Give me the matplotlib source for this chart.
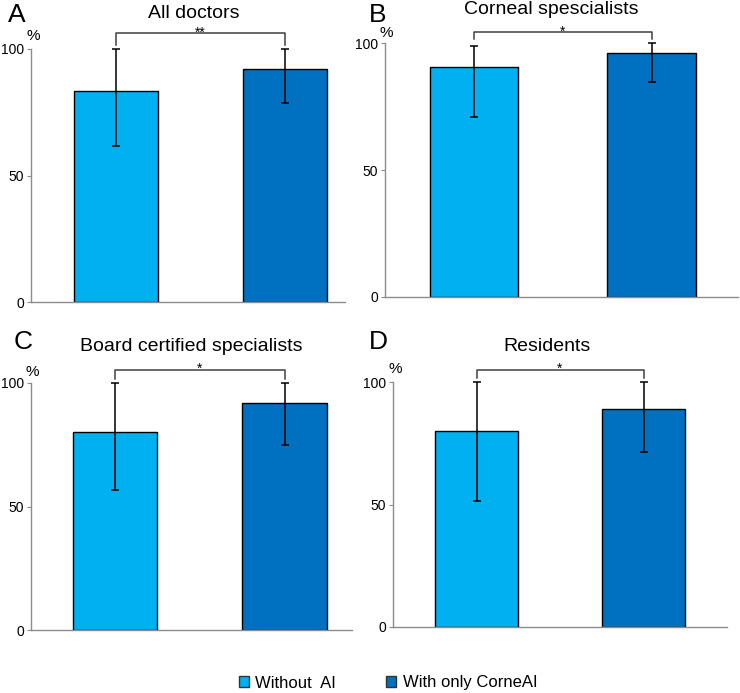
import numpy as np
import matplotlib
matplotlib.use("Agg")
import matplotlib.pyplot as plt
from matplotlib.patches import Patch

plt.rcParams["font.family"] = ["Liberation Sans", "DejaVu Sans"]

# data (percent)
panel_labels = ["A", "B", "C", "D"]
titles = ["All doctors", "Corneal spescialists", "Board certified specialists", "Residents"]
series_names = ["Without  AI", "With only CorneAI"]

without_ai = [83.4, 90.7, 80.3, 80.0]
without_lo = [61.7, 70.8, 56.5, 51.5]
without_hi = [100.0, 98.8, 100.0, 100.0]

with_ai = [92.1, 95.9, 91.9, 89.1]
with_lo = [78.7, 84.8, 74.7, 71.6]
with_hi = [100.0, 100.0, 100.0, 100.0]

stars = ["**", "*", "*", "*"]
bracket_y = [106.2, 104.2, 105.4, 105.0]

colors = ["#00B0F0", "#0070C0"]
W, H = 740, 693


def fx(px):
    return px / W


def fy(py):
    return 1 - py / H


# layout in pixels: left, right, top(100), bottom(0), xlim
layout = [
    (31, 345, 49, 302, (-0.503, 1.355)),
    (385, 738, 43, 297, (-0.501, 1.487)),
    (31, 352, 383, 630, (-0.496, 1.398)),
    (393, 727, 382, 627, (-0.5, 1.5)),
]
title_pos = [(194, 14), (551, 10), (191, 347), (547, 347)]
letter_pos = [(17, 15), (378, 15), (23, 342), (378, 342)]
pct_pos = [(33, 36), (386, 33), (32, 372), (395, 369)]

fig = plt.figure(figsize=(W / 100, H / 100), dpi=100)

for i in range(4):
    l, r, t, b, xl = layout[i]
    ax = fig.add_axes([fx(l), fy(b), (r - l) / W, (b - t) / H])
    x = np.arange(2)
    vals = [without_ai[i], with_ai[i]]
    lo = [without_lo[i], with_lo[i]]
    hi = [without_hi[i], with_hi[i]]
    ax.bar(x, vals, width=0.5, color=colors, edgecolor="black", linewidth=1.0, zorder=2)
    yerr = [np.array(vals) - np.array(lo), np.array(hi) - np.array(vals)]
    eb = ax.errorbar(x, vals, yerr=yerr, fmt="none", ecolor="black",
                     elinewidth=1.1, capsize=3, capthick=1.1, zorder=3)
    for art in eb.get_children():
        art.set_clip_on(False)

    # significance bracket
    yb = bracket_y[i]
    ax.plot([0, 0, 1, 1], [101.5, yb, yb, 101.5], color="#404040", lw=1.1, clip_on=False)
    ax.text(0.5, yb - 1.2, stars[i], ha="center", va="baseline", fontsize=10)

    ax.set_xlim(*xl)
    ax.set_ylim(0, 100)
    ax.set_yticks([0, 50, 100])
    ax.set_xticks([])
    for s in ["top", "right"]:
        ax.spines[s].set_visible(False)
    for s in ["left", "bottom"]:
        ax.spines[s].set_color("#8c8c8c")
        ax.spines[s].set_linewidth(1.0)
    ax.tick_params(axis="y", length=3, color="#8c8c8c", labelsize=10, pad=2)

    fig.text(fx(title_pos[i][0]), fy(title_pos[i][1]), titles[i],
             ha="center", va="center", fontsize=14)
    fig.text(fx(letter_pos[i][0]), fy(letter_pos[i][1]), panel_labels[i],
             ha="center", va="center", fontsize=19)
    fig.text(fx(pct_pos[i][0]), fy(pct_pos[i][1]), "%",
             ha="center", va="center", fontsize=11)

handles = [Patch(facecolor=c, edgecolor="#333333", linewidth=1.0) for c in colors]
fig.legend(handles, series_names, loc="center", bbox_to_anchor=(fx(388), fy(683)),
           ncol=2, frameon=False, fontsize=12, handlelength=0.6, handleheight=0.6,
           handletextpad=0.4, columnspacing=3.0)

fig.savefig("out.png", dpi=100)
